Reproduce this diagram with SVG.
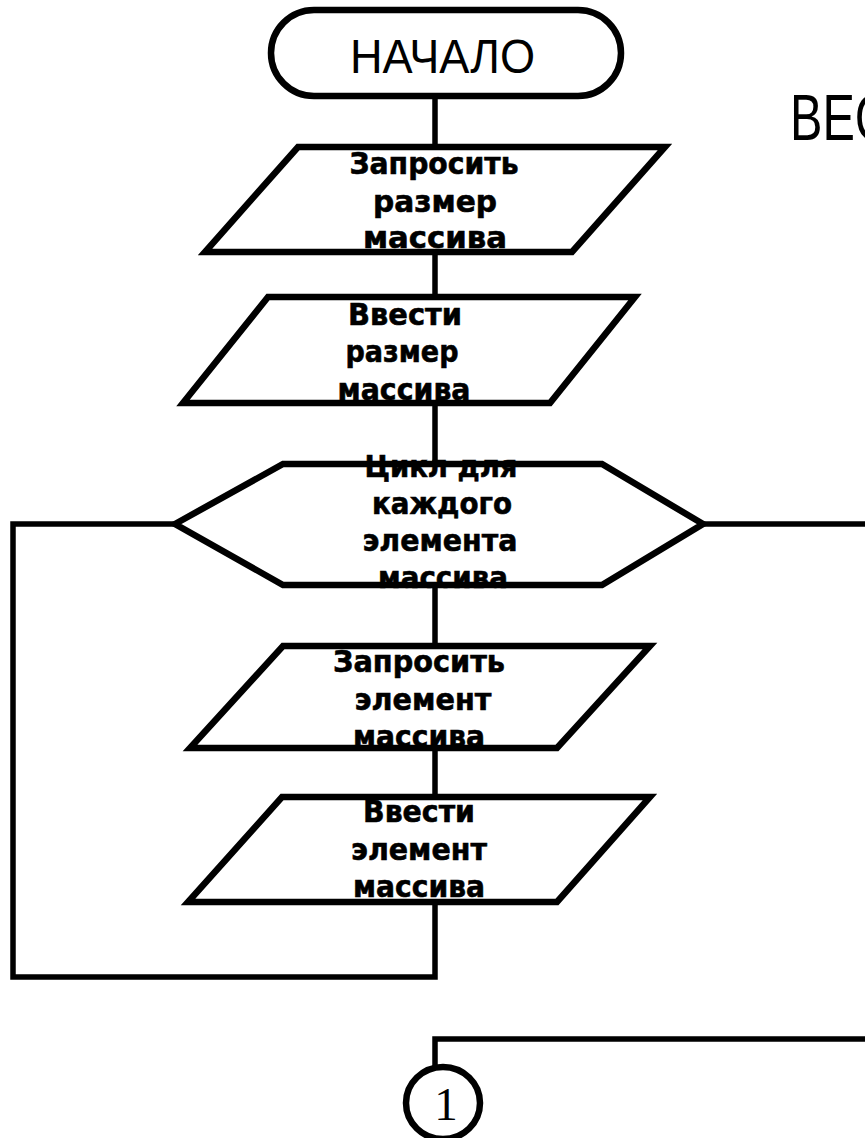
<svg xmlns="http://www.w3.org/2000/svg" width="865" height="1138" viewBox="0 0 865 1138">
  <style>
    .shape { fill: #ffffff; stroke: #000000; stroke-width: 6.5; stroke-linejoin: miter; }
    .conn { fill: none; stroke: #000000; stroke-width: 5.5; stroke-linejoin: miter; stroke-linecap: butt; }
    .lbl { font-family: "DejaVu Sans", Verdana, sans-serif; font-weight: bold; font-size: 30px; fill: #000000; stroke: #000000; stroke-width: 0.6; text-anchor: middle; }
    .big { font-family: "Liberation Sans", Arial, sans-serif; fill: #000000; }
    .num { font-family: "Liberation Serif", "Times New Roman", serif; font-size: 47px; fill: #000000; text-anchor: middle; }
  </style>
  <rect x="0" y="0" width="865" height="1138" fill="#ffffff"/>

  <!-- connectors -->
  <g id="connectors">
    <path class="conn" d="M435 96 V147"/>
    <path class="conn" d="M435 252 V297"/>
    <path class="conn" d="M435 403 V464"/>
    <path class="conn" d="M435 585 V646"/>
    <path class="conn" d="M435 748 V797"/>
    <!-- loop return -->
    <path class="conn" d="M435 902 V977 H13 V524 H175"/>
    <!-- loop exit -->
    <path class="conn" d="M703 524 H865"/>
    <!-- continuation to connector 1 -->
    <path class="conn" d="M865 1039 H435 V1067"/>
  </g>

  <!-- start terminator -->
  <g id="start">
    <rect class="shape" x="271" y="10" width="350" height="86" rx="43" ry="43"/>
    <text class="big" x="350" y="73" font-size="49" textLength="185" lengthAdjust="spacingAndGlyphs">НАЧАЛО</text>
  </g>

  <!-- heading, runs past the right edge -->
  <g id="title">
    <text class="big" x="790" y="140" font-size="65" textLength="100" lengthAdjust="spacingAndGlyphs">ВЕС</text>
  </g>

  <!-- request array size -->
  <g id="ask-size">
    <polygon class="shape" points="298,147 665,147 572,252 205,252"/>
    <text class="lbl" x="434" y="174" textLength="169" lengthAdjust="spacingAndGlyphs">Запросить</text>
    <text class="lbl" x="435" y="212" textLength="124" lengthAdjust="spacingAndGlyphs">размер</text>
    <text class="lbl" x="435" y="248" textLength="144" lengthAdjust="spacingAndGlyphs">массива</text>
  </g>

  <!-- input array size -->
  <g id="input-size">
    <polygon class="shape" points="268,297 635,297 550,403 183,403"/>
    <text class="lbl" x="405" y="325" textLength="114" lengthAdjust="spacingAndGlyphs">Ввести</text>
    <text class="lbl" x="402" y="362" textLength="113" lengthAdjust="spacingAndGlyphs">размер</text>
    <text class="lbl" x="404" y="400" textLength="133" lengthAdjust="spacingAndGlyphs">массива</text>
  </g>

  <!-- loop header -->
  <g id="loop">
    <polygon class="shape" points="175,524 283,464 602,464 703,524 602,585 283,585"/>
    <text class="lbl" x="441" y="477" textLength="153" lengthAdjust="spacingAndGlyphs">Цикл для</text>
    <text class="lbl" x="442" y="514" textLength="140" lengthAdjust="spacingAndGlyphs">каждого</text>
    <text class="lbl" x="440" y="551" textLength="155" lengthAdjust="spacingAndGlyphs">элемента</text>
    <text class="lbl" x="443" y="588" textLength="130" lengthAdjust="spacingAndGlyphs">массива</text>
  </g>

  <!-- request element -->
  <g id="ask-element">
    <polygon class="shape" points="283,646 650,646 557,748 190,748"/>
    <text class="lbl" x="419" y="672" textLength="172" lengthAdjust="spacingAndGlyphs">Запросить</text>
    <text class="lbl" x="423" y="710" textLength="137" lengthAdjust="spacingAndGlyphs">элемент</text>
    <text class="lbl" x="419" y="747" textLength="132" lengthAdjust="spacingAndGlyphs">массива</text>
  </g>

  <!-- input element -->
  <g id="input-element">
    <polygon class="shape" points="282,797 650,797 557,902 188,902"/>
    <text class="lbl" x="419" y="822" textLength="112" lengthAdjust="spacingAndGlyphs">Ввести</text>
    <text class="lbl" x="419" y="860" textLength="136" lengthAdjust="spacingAndGlyphs">элемент</text>
    <text class="lbl" x="419" y="897" textLength="132" lengthAdjust="spacingAndGlyphs">массива</text>
  </g>

  <!-- off-page connector -->
  <g id="connector-1">
    <ellipse class="shape" cx="443" cy="1103" rx="37" ry="36"/>
    <text class="num" x="446" y="1120">1</text>
  </g>
</svg>
